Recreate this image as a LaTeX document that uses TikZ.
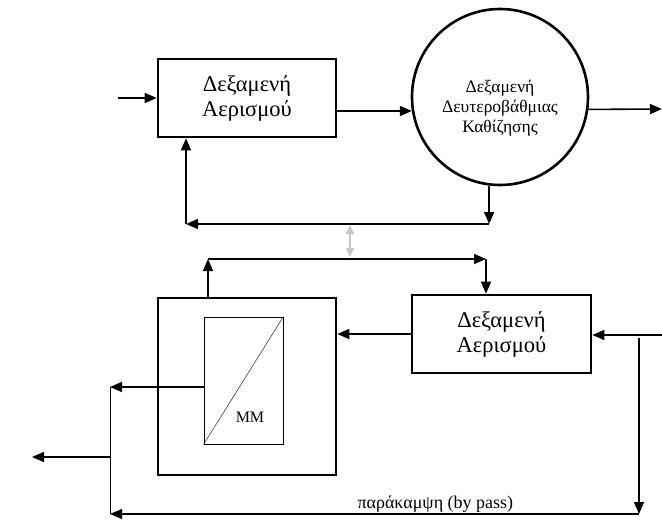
\documentclass[tikz,border=0pt]{standalone}
\usepackage{fontspec}
\setmainfont{Liberation Serif}
\usetikzlibrary{arrows.meta}
\tikzset{
  tank/.style={draw, line width=2.6pt, rectangle, align=center, font=\fontsize{22.5}{25}\selectfont},
  arr/.style={line width=1.6pt, -{Triangle[length=12pt,width=10pt]}},
  thinarr/.style={line width=1.2pt, -{Triangle[length=12pt,width=10pt]}}
}
\begin{document}
\begin{tikzpicture}[x=1pt,y=-1pt]
\useasboundingbox (0,0) rectangle (662,520);
\node[tank, minimum width=178, minimum height=78] (aer1) at (247,98) {Δεξαμενή\\Αερισμού};
\node[draw, circle, line width=2.6pt, minimum size=176] (sed) at (500,97) {};
\node[align=center, font=\fontsize{17.5}{20}\selectfont] (sedtxt) at ([yshift=-11pt]sed.center) {Δεξαμενή\\Δευτεροβάθμιας\\Καθίζησης};
\node[tank, minimum width=179, minimum height=78] (aer2) at (501.5,334) {Δεξαμενή\\Αερισμού};
\node[draw, line width=2.6pt, minimum width=178, minimum height=177] (mbr) at (247,386.5) {};
\node[draw, line width=0.8pt, minimum width=79, minimum height=127] (mem) at (243.5,380.5) {};
\node[font=\fontsize{16}{18}\selectfont] (mm) at (250,417) {MM};
\coordinate (in1) at (118,98);
\coordinate (out1) at (662,109);
\coordinate (ret1) at (489,224);
\coordinate (ret2) at (186,224);
\coordinate (ret3) at (208,259);
\coordinate (ret4) at (486,259);
\coordinate (in2) at (662,335);
\coordinate (bp1) at (639,338);
\coordinate (bp2) at (639,514);
\coordinate (bp3) at (110,514);
\coordinate (perm) at (110,387);
\coordinate (out2) at (32,457);
\draw[arr] (in1) -- (aer1.west);
\draw[arr] (sed.189 -| aer1.east) -- (sed.189);
\draw[arr] (sed.-8) -- (out1);
\draw[arr] (sed.263) -- (sed.263 |- ret1);
\draw[arr] (ret1) -- (ret2);
\draw[arr] (ret2) -- (ret2 |- aer1.south);
\draw[line width=1.6pt, gray!45, {Triangle[length=9pt,width=8pt]}-{Triangle[length=9pt,width=8pt]}] (350,225) -- (350,257);
\draw[arr] (ret3 |- mbr.north) -- (ret3);
\draw[arr] (ret3) -- (ret4);
\draw[arr] (ret4) -- (ret4 |- aer2.north);
\draw[arr] (aer2.west) -- (aer2.west -| mbr.east);
\draw[arr] (in2) -- (in2 -| aer2.east);
\draw (mem.south west) -- (mem.north east);
\draw[arr] (mem.west |- perm) -- (perm);
\draw[line width=0.8pt] (perm) -- (bp3);
\draw[arr] (perm |- out2) -- (out2);
\draw[thinarr] (bp1) -- (bp2);
\draw[thinarr] (bp2) -- node[above, pos=0.385, inner sep=1pt, font=\fontsize{18}{20}\selectfont] {παράκαμψη (by pass)} (bp3);
\end{tikzpicture}
\end{document}
